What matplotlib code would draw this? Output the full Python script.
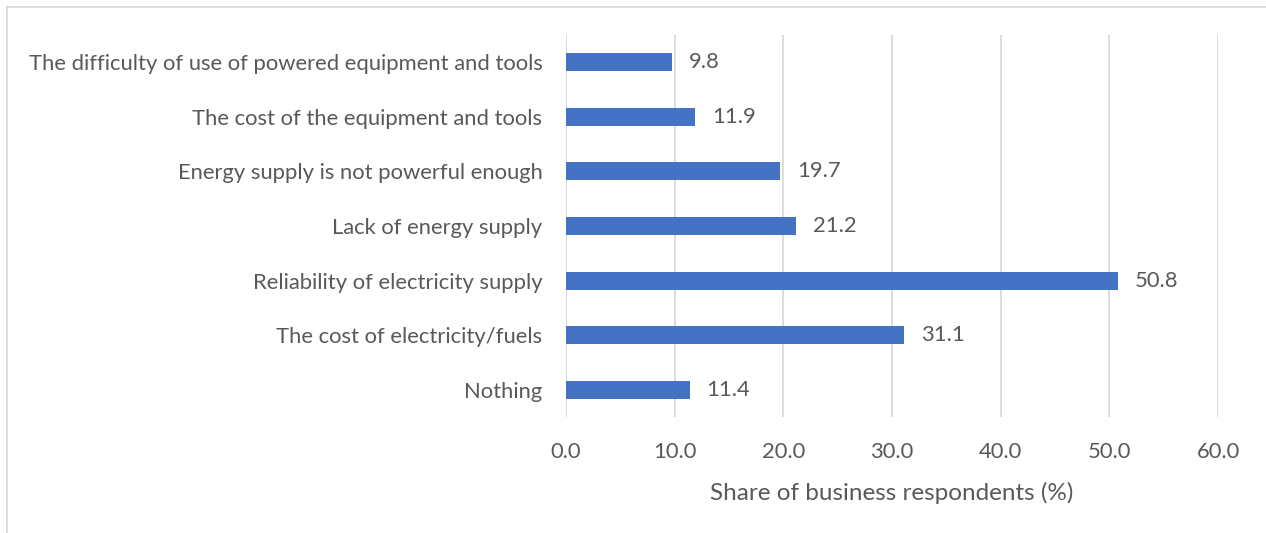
import matplotlib
matplotlib.use("Agg")
import matplotlib.pyplot as plt
from matplotlib.lines import Line2D

categories = [
    "Nothing",
    "The cost of electricity/fuels",
    "Reliability of electricity supply",
    "Lack of energy supply",
    "Energy supply is not powerful enough",
    "The cost of the equipment and tools",
    "The difficulty of use of powered equipment and tools",
]
values = [11.4, 31.1, 50.8, 21.2, 19.7, 11.9, 9.8]
xticks = [0, 10, 20, 30, 40, 50, 60]
xlabel = "Share of business respondents (%)"

TXT = "#595959"
BAR = "#4472C4"
GRID = "#D9D9D9"
plt.rcParams["font.family"] = ["Lato", "DejaVu Sans"]
FS = 15.8
FSL = 17.5

W, H = 1266, 533
fig = plt.figure(figsize=(W / 100, H / 100), dpi=100)
ax = fig.add_axes([566 / W, 1 - 417 / H, (1218 - 566) / W, (417 - 35) / H])

y = list(range(len(categories)))
ax.barh(y, values, height=0.33, color=BAR, zorder=3)
ax.set_ylim(-0.5, len(categories) - 0.5)
ax.set_xlim(0, 60)
ax.set_xticks(xticks)
ax.set_xticklabels([f"{v:.1f}" for v in xticks], fontsize=FS, color=TXT)
ax.set_yticks(y)
ax.set_yticklabels(categories, fontsize=FS, color=TXT)
ax.tick_params(axis="both", length=0)
ax.tick_params(axis="y", pad=17)
ax.tick_params(axis="x", pad=18)
for s in ax.spines.values():
    s.set_visible(False)
ax.grid(axis="x", color=GRID, linewidth=1.3, zorder=0)
ax.set_axisbelow(True)
ax.set_xlabel(xlabel, fontsize=FSL, color=TXT, labelpad=14)

for yi, v in zip(y, values):
    ax.annotate(f"{v:.1f}", (v, yi), xytext=(12, 0), textcoords="offset points",
                va="center", ha="left", fontsize=FS, color=TXT)

# outer border (top and left visible)
fig.add_artist(Line2D([7 / W, 7 / W], [0, 1 - 7 / H], transform=fig.transFigure, color=GRID, lw=1.3))
fig.add_artist(Line2D([7 / W, 1], [1 - 7 / H, 1 - 7 / H], transform=fig.transFigure, color=GRID, lw=1.3))

fig.savefig("out.png", dpi=100)
